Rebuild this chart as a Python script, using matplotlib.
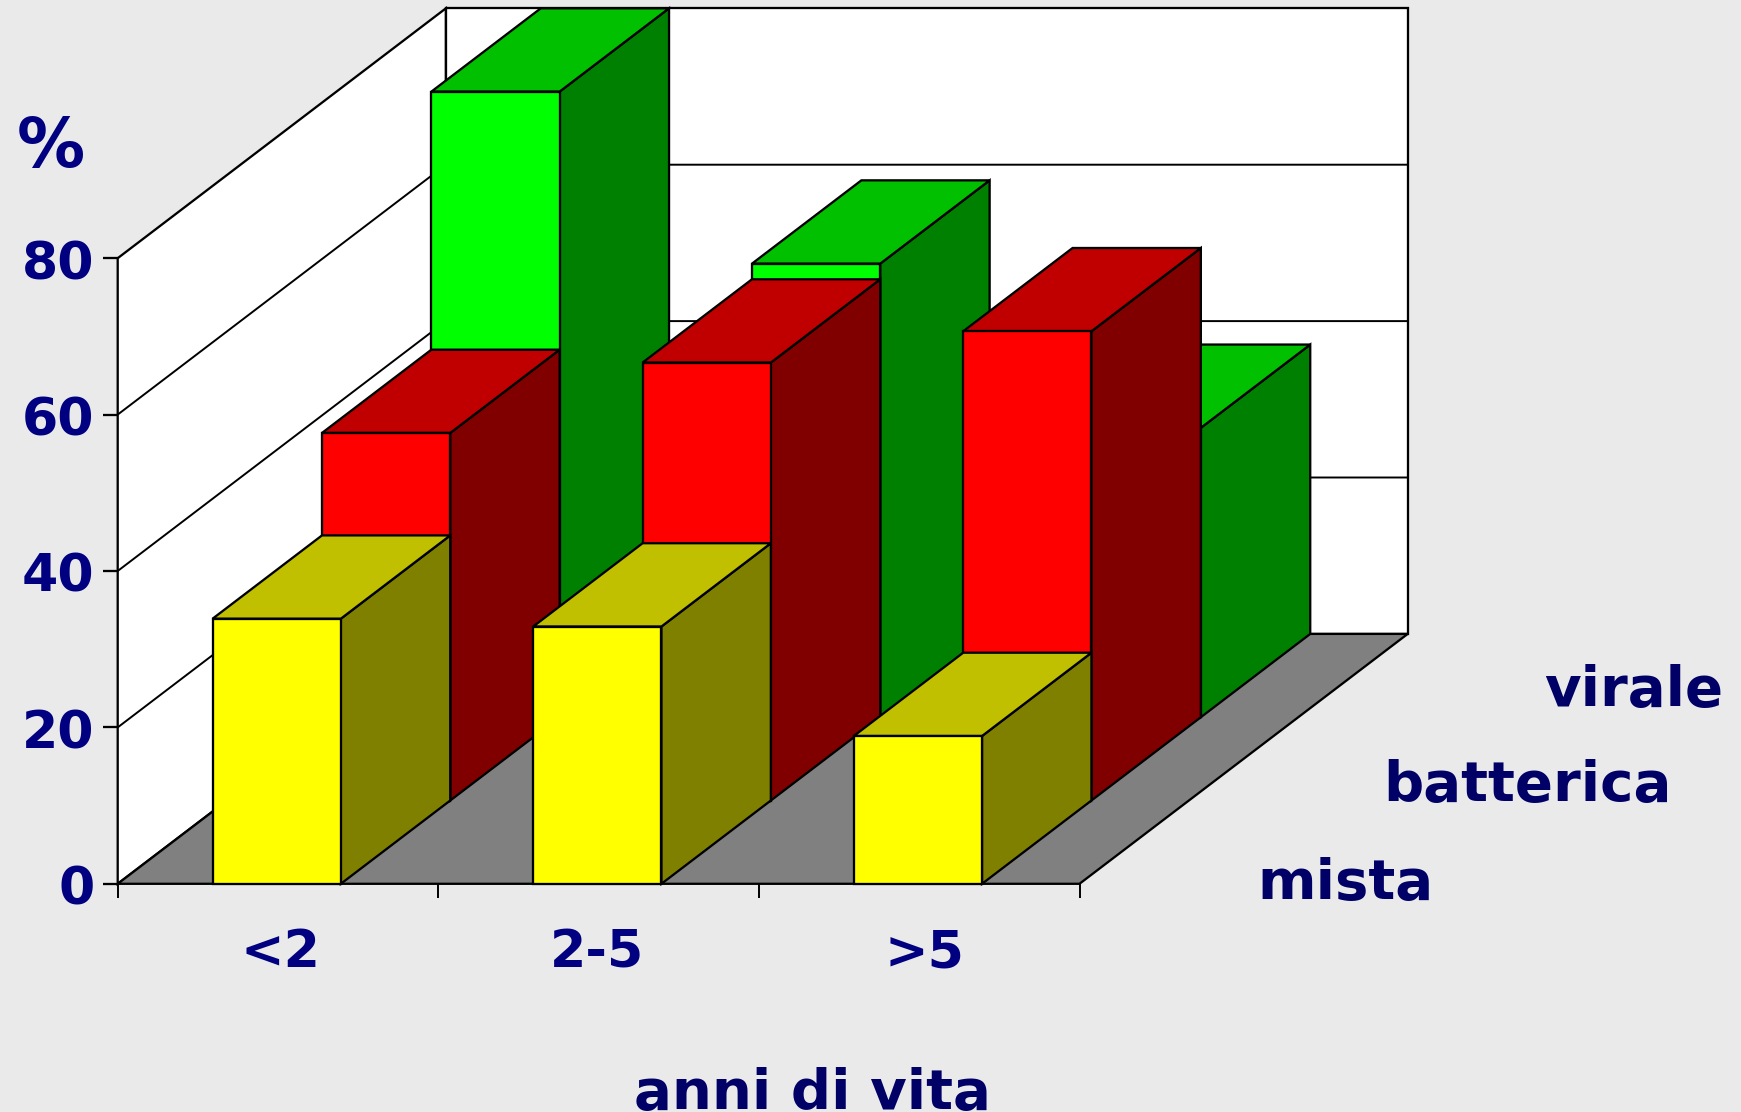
# Grafico a barre 3D in proiezione obliqua: forme di infezione per età
import matplotlib
matplotlib.use("Agg")
import matplotlib.pyplot as plt
from matplotlib.patches import Polygon

# Dati
categorie = ["<2", "2-5", ">5"]
serie = ["mista", "batterica", "virale"]
mista = [33.9, 32.9, 18.9]
batterica = [47, 56, 60]
virale = [80, 58, 37]
tick_y = [0, 20, 40, 60, 80]

# Colori (fronte, sopra, lato) per ogni serie
colori = [("#FFFF00", "#C0C000", "#808000"),
          ("#FF0000", "#C00000", "#800000"),
          ("#00FF00", "#00C000", "#008000")]
blu = "#000080"
blu_scuro = "#000066"

# Geometria della proiezione, in pixel
X0, Y0 = 117.7, 883.8
PASSO_CAT = 320.6
PX_VAL = 7.82
DX_PROF, DY_PROF = 109.4, -83.3
LARGH = 0.40
MARGINE = 0.296
LW = 1.65


def proietta(c, p, v):
    # c = categoria, p = profondità, v = valore
    return (X0 + c * PASSO_CAT + p * DX_PROF, Y0 + p * DY_PROF - v * PX_VAL)


fig = plt.figure(figsize=(17.41, 11.12), dpi=100, facecolor="#EAEAEA")
ax = fig.add_axes([0, 0, 1, 1])
ax.set_xlim(0, 1741)
ax.set_ylim(1112, 0)
ax.axis("off")

ordine = [1]


def faccia(punti, colore, lw=LW):
    # ogni faccia ha il suo zorder, così le barre coprono la griglia
    ax.add_patch(Polygon(punti, closed=True, facecolor=colore, edgecolor="black",
                         linewidth=lw, joinstyle="miter", zorder=ordine[0]))
    ordine[0] += 1


n = len(categorie)
m = len(serie)
vmax = tick_y[-1]

# Pareti e pavimento
faccia([proietta(0, 0, 0), proietta(0, m, 0), proietta(0, m, vmax), proietta(0, 0, vmax)], "white")
faccia([proietta(0, m, 0), proietta(n, m, 0), proietta(n, m, vmax), proietta(0, m, vmax)], "white")
faccia([proietta(0, 0, 0), proietta(n, 0, 0), proietta(n, m, 0), proietta(0, m, 0)], "#808080")

# Griglia sulle pareti
for v in tick_y[1:-1]:
    xs, ys = zip(proietta(0, 0, v), proietta(0, m, v), proietta(n, m, v))
    ax.plot(xs, ys, color="black", lw=LW * 0.85, zorder=ordine[0])
ordine[0] += 1

# Barre, da dietro in avanti e da sinistra a destra
valori = [mista, batterica, virale]
for p in range(m - 1, -1, -1):
    fronte, sopra, lato = colori[p]
    for c in range(n):
        v = valori[p][c]
        a = c + MARGINE
        b = a + LARGH
        faccia([proietta(b, p, 0), proietta(b, p + 1, 0), proietta(b, p + 1, v), proietta(b, p, v)], lato)
        faccia([proietta(a, p, v), proietta(b, p, v), proietta(b, p + 1, v), proietta(a, p + 1, v)], sopra)
        faccia([proietta(a, p, 0), proietta(b, p, 0), proietta(b, p, v), proietta(a, p, v)], fronte)

# Tacche e etichette dell'asse dei valori
for v in tick_y:
    x, y = proietta(0, 0, v)
    ax.plot([x - 15, x], [y, y], color="black", lw=LW, solid_capstyle="butt", zorder=ordine[0])
    ax.text(x - 23, y + 7, str(v), color=blu, fontsize=37.5, fontweight="bold",
            ha="right", va="center")

# Tacche dell'asse delle categorie
for c in range(n + 1):
    x, y = proietta(c, 0, 0)
    ax.plot([x, x], [y, y + 14], color="black", lw=LW * 0.85, solid_capstyle="butt", zorder=ordine[0])

# Etichette delle categorie
scarti = [2, -2, 5]
for i, nome in enumerate(categorie):
    x, y = proietta(i + 0.5, 0, 0)
    ax.text(x + scarti[i], 953, nome, color=blu, fontsize=37.5, fontweight="bold",
            ha="center", va="center")

# Etichette delle serie
pos_serie = [(1434, 884), (1672, 786), (1723, 691)]
for nome, (x, y) in zip(serie, pos_serie):
    ax.text(x, y, nome, color=blu_scuro, fontsize=40.5, fontweight="bold",
            ha="right", va="center")

ax.text(51, 148, "%", color=blu, fontsize=49, fontweight="bold", ha="center", va="center")
ax.text(812, 1109, "anni di vita", color=blu_scuro, fontsize=40.5, fontweight="bold",
        ha="center", va="baseline")

fig.savefig("out.png", dpi=100, facecolor=fig.get_facecolor())
